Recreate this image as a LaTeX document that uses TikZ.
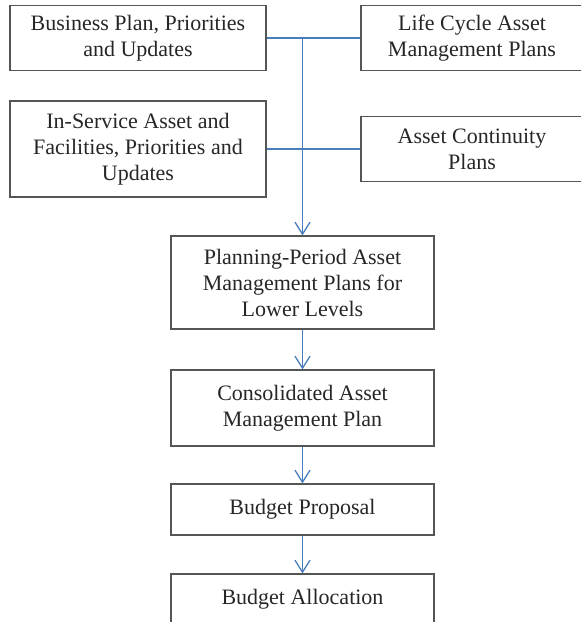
\documentclass[tikz,border=0pt]{standalone}
\usepackage{fontspec}
\setmainfont{Liberation Serif}
\usetikzlibrary{arrows.meta}
\definecolor{linkblue}{HTML}{4A7EBB}
\definecolor{boxgray}{HTML}{555555}
\definecolor{txtgray}{HTML}{262626}

\begin{document}
\begin{tikzpicture}[x=1pt,y=-1pt,
        plan/.style={draw=boxgray, line width=1.2pt, text=txtgray, align=center, inner sep=0pt, font=\fontsize{22}{26}\selectfont},
        link/.style={draw=linkblue, line width=1.3pt},
        flow/.style={link, -{Straight Barb[length=12pt,width=15pt]}}]
    \useasboundingbox (0,0) rectangle (581,622);
    \clip (0,0) rectangle (581,622);
    % inputs
    \node[plan, minimum width=256pt, minimum height=65pt] (bizplan) at (138,38) {Business Plan, Priorities\\and Updates};
    \node[plan, minimum width=222pt, minimum height=65pt] (lifecycle) at (472,38) {Life Cycle Asset\\Management Plans};
    \node[plan, minimum width=256pt, minimum height=96pt] (inservice) at (138,149) {In-Service Asset and\\Facilities, Priorities and\\Updates};
    \node[plan, minimum width=222pt, minimum height=65pt] (continuity) at (472,149) {Asset Continuity\\Plans};
    % chain
    \node[plan, minimum width=263pt, minimum height=93pt] (period) at (302.5,282.5) {Planning-Period Asset\\Management Plans for\\Lower Levels};
    \node[plan, minimum width=263pt, minimum height=76pt] (consol) at (302.5,408) {Consolidated Asset\\Management Plan};
    \node[plan, minimum width=263pt, minimum height=51pt] (proposal) at (302.5,509.5) {Budget Proposal};
    \node[plan, minimum width=263pt, minimum height=51pt] (alloc) at (302.5,599.5) {Budget Allocation};

    \draw[link] (bizplan.east) -- (lifecycle.west); \draw[link] (inservice.east) -- (continuity.west);
    \draw[flow] (period.north |- bizplan.east) -- (period.north);
    \draw[flow] (period.south) -- (consol.north); \draw[flow] (consol.south) -- (proposal.north); \draw[flow] (proposal.south) -- (alloc.north);
\end{tikzpicture}
\end{document}
